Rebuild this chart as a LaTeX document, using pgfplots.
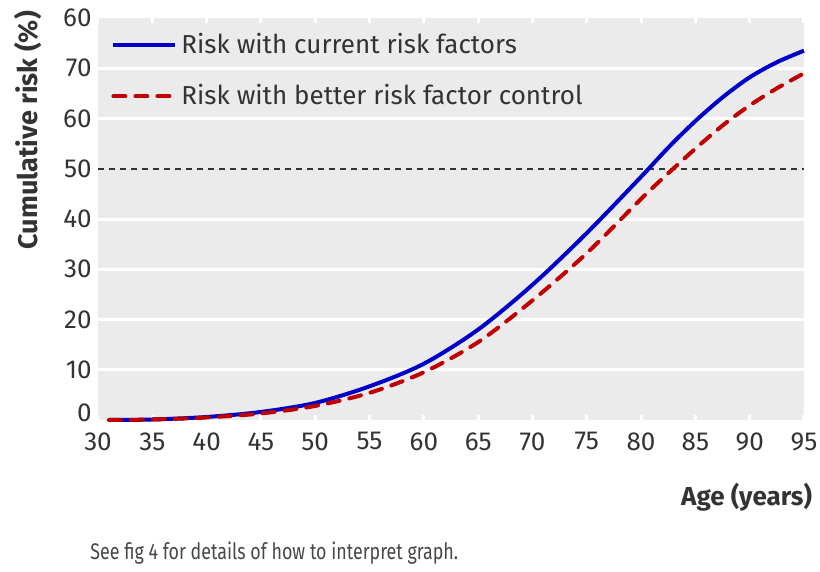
\documentclass[border=0pt]{standalone}
\usepackage{fontspec}
\setmainfont{Fira Sans}
\usepackage{graphicx}
\usepackage{pgfplots}
\pgfplotsset{compat=1.18}
\definecolor{bgray}{RGB}{235,235,235}
\definecolor{txt}{RGB}{51,51,51}
\definecolor{cblue}{RGB}{0,0,200}
\definecolor{cred}{RGB}{192,0,0}
\begin{document}
\begin{tikzpicture}
\path[use as bounding box] (-49bp,-76bp) rectangle (361bp,210bp);
\begin{axis}[
  at={(0,0)}, anchor=south west,
  scale only axis, width=353bp, height=201bp,
  xmin=30, xmax=95, ymin=0, ymax=80,
  axis line style={draw=none},
  axis background/.style={fill=bgray},
  xtick={30,35,...,95},
  ytick={10,20,30,40,60,70},
  yticklabels={10,20,30,40,60,70},
  extra y ticks={50,80,1.4},
  extra y tick labels={50,60,0},
  extra y tick style={grid=none},
  ymajorgrids,
  grid style={white, line width=1.5bp},
  tick align=inside,
  xtick style={white, line width=1.5bp},
  ytick style={draw=none},
  major tick length=2.5bp,
  /pgf/number format/assume math mode=true,
  tick label style={font=\fontsize{13bp}{15bp}\selectfont, text=txt},
  xticklabel style={inner sep=0pt, anchor=north, yshift=-6bp},
  yticklabel style={inner sep=0pt, anchor=east, xshift=-3bp},
  xlabel={Age (years)},
  ylabel={Cumulative risk (\%)},
  xlabel style={font=\fontsize{13bp}{15bp}\selectfont\bfseries, text=txt,
    at={(axis description cs:1,0)}, anchor=east, yshift=-38.5bp, xshift=7.5bp},
  ylabel style={font=\fontsize{13.5bp}{15bp}\selectfont\bfseries, text=txt,
    at={(axis description cs:0,0.721)}, anchor=center, yshift=35bp},
  legend cell align=left,
  legend style={at={(axis description cs:0,1)}, anchor=north west, xshift=6.5bp, yshift=-5.5bp,
    draw=none, fill=none, font=\fontsize{13bp}{15bp}\selectfont, text=txt,
    row sep=10bp, inner sep=0pt},
  legend image code/.code={\draw[#1] (0bp,0bp) -- (31bp,0bp);},
  clip=false,
]
\addplot[txt, line width=1bp, dash pattern=on 3bp off 2.5bp, forget plot] coordinates {(30,50) (95,50)};
\addplot[cblue, line width=2bp, smooth] coordinates {
(31,0.0) (35,0.1) (40,0.6) (45,1.6) (50,3.4) (55,6.7) (60,11.2) (65,18.0) (70,26.9) (75,37.2) (80,48.4) (82.5,54.2) (85,59.5) (87.5,64.2) (90,68.2) (92.5,71.2) (95,73.5)};
\addlegendentry{Risk with current risk factors}
\addplot[cred, line width=2bp, smooth, line cap=round, dash pattern=on 6bp off 5bp] coordinates {
(31,0.0) (35,0.1) (40,0.5) (45,1.3) (50,2.8) (55,5.4) (60,9.5) (65,15.5) (70,23.8) (75,33.2) (80,44.0) (82.5,49.1) (85,54.0) (87.5,58.6) (90,62.6) (92.5,66.0) (95,69.0)};
\addlegendentry{Risk with better risk factor control}
\end{axis}
\node[anchor=west, inner sep=0pt, text=txt!90!white, font=\fontsize{11.3bp}{13bp}\selectfont] at (-4bp,-66.5bp) {\scalebox{0.79}[1]{See fig 4 for details of how to interpret graph.}};
\end{tikzpicture}
\end{document}
